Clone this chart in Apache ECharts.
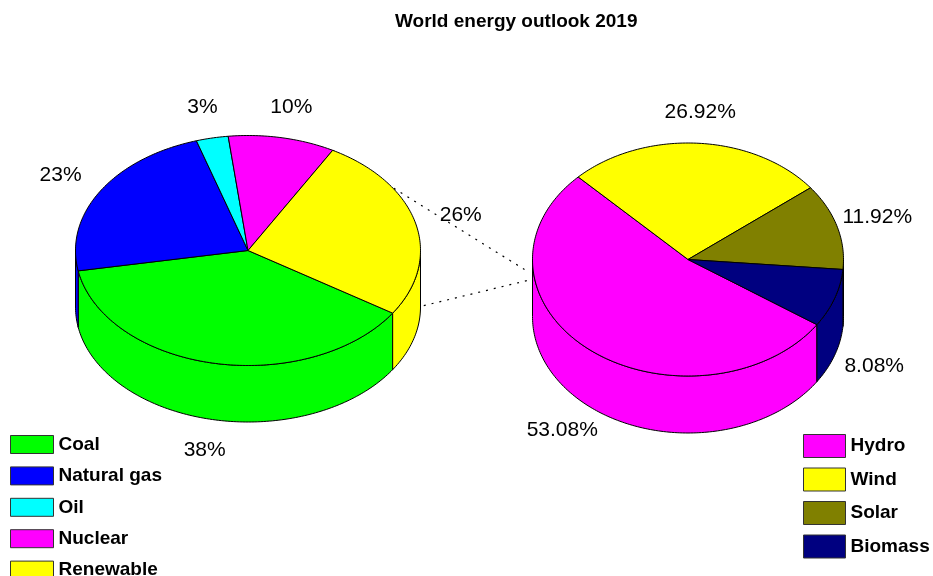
<!DOCTYPE html>
<html><head><meta charset="utf-8">
<script src="https://cdn.jsdelivr.net/npm/echarts@6/dist/echarts.min.js"></script>
<style>html,body{margin:0;padding:0;background:#fff}#c{width:933px;height:576px}</style>
</head><body><div id="c"></div>
<script>
const titleText = 'World energy outlook 2019';
const leftNames = ['Coal', 'Natural gas', 'Oil', 'Nuclear', 'Renewable'];
const leftValues = [38, 23, 3, 10, 26];
const leftColors = ['#00ff00', '#0000ff', '#00ffff', '#ff00ff', '#ffff00'];
const rightNames = ['Hydro', 'Wind', 'Solar', 'Biomass'];
const rightValues = [53.08, 26.92, 11.92, 8.08];
const rightColors = ['#ff00ff', '#ffff00', '#808000', '#000080'];
const splitIndex = 4; // "Renewable" is broken down in the right pie

const FONT = '"Liberation Sans", Arial, sans-serif';
const pies = {
  left:  { cx: 248, cy: 250.5, rx: 172.5, ry: 115, h: 56.5, start: -33,
           names: leftNames, values: leftValues, colors: leftColors, fmt: v => v + '%' },
  right: { cx: 688, cy: 259.5, rx: 155.5, ry: 116.5, h: 57, start: -34,
           names: rightNames, values: rightValues, colors: rightColors, fmt: v => v.toFixed(2) + '%' }
};

function sliceAngles(p, i) {
  const total = p.values.reduce((a, b) => a + b, 0);
  let cum = 0;
  for (let j = 0; j < i; j++) cum += p.values[j];
  const hi = p.start - cum / total * 360;
  const lo = p.start - (cum + p.values[i]) / total * 360;
  return [lo, hi];
}
function pt(p, deg, dy) {
  const r = deg * Math.PI / 180;
  return [p.cx + p.rx * Math.cos(r), p.cy - p.ry * Math.sin(r) + (dy || 0)];
}
function arc(p, from, to, dy) {
  const pts = [];
  const n = Math.max(2, Math.ceil(Math.abs(to - from)) + 1);
  for (let k = 0; k < n; k++) pts.push(pt(p, from + (to - from) * k / (n - 1), dy));
  return pts;
}
function sliceShapes(p, i) {
  const [lo, hi] = sliceAngles(p, i);
  const style = { fill: p.colors[i], stroke: '#000', lineWidth: 1 };
  const children = [];
  for (let k = -2; k <= 1; k++) {
    const a = Math.max(lo, 180 + 360 * k), b = Math.min(hi, 360 + 360 * k);
    if (b - a > 0.01) {
      const pts = arc(p, a, b, 0).concat(arc(p, b, a, p.h));
      children.push({ type: 'polygon', shape: { points: pts }, style: style });
    }
  }
  const face = [[p.cx, p.cy]].concat(arc(p, hi, lo, 0));
  children.push({ type: 'polygon', shape: { points: face }, style: style });
  return children;
}
function labelShapes(p) {
  const out = [];
  p.values.forEach((v, i) => {
    const [lo, hi] = sliceAngles(p, i);
    const mid = (lo + hi) / 2;
    const r = mid * Math.PI / 180;
    const k = 1.27;
    const x = p.cx + k * p.rx * Math.cos(r);
    const y = p.cy - k * p.ry * Math.sin(r) + (Math.sin(r) < 0 ? p.h : 0);
    out.push({ type: 'text', x: x, y: y, style: { text: p.fmt(v), fill: '#000',
      font: 'normal 21px ' + FONT, align: 'center', verticalAlign: 'middle' } });
  });
  return out;
}
function connectorShapes() {
  const L = pies.left, R = pies.right;
  const [lo, hi] = sliceAngles(L, splitIndex);
  const a = pt(L, hi, 0), b = pt(L, lo, 0);
  const ea = [R.cx - R.rx - 8, R.cy + 10], eb = [R.cx - R.rx - 5, R.cy + 21];
  const st = { stroke: '#000', lineWidth: 1.2, lineDash: [2, 6], fill: null };
  return [
    { type: 'line', shape: { x1: a[0], y1: a[1], x2: ea[0], y2: ea[1] }, style: st },
    { type: 'line', shape: { x1: b[0], y1: b[1], x2: eb[0], y2: eb[1] }, style: st }
  ];
}

const series = [];
['left', 'right'].forEach(key => {
  const p = pies[key];
  p.names.forEach((name, i) => {
    series.push({
      type: 'custom', name: name, coordinateSystem: 'none', silent: true,
      itemStyle: { color: p.colors[i], borderColor: '#000', borderWidth: 1 },
      data: [[p.values[i]]],
      renderItem: () => ({ type: 'group', children: sliceShapes(p, i) })
    });
  });
});
series.push({
  type: 'custom', name: 'connectors', coordinateSystem: 'none', silent: true, z: 1,
  data: [[0]], renderItem: () => ({ type: 'group', children: connectorShapes() })
});
series.push({
  type: 'custom', name: 'labels', coordinateSystem: 'none', silent: true, z: 5,
  data: [[0]], renderItem: () => ({ type: 'group',
    children: labelShapes(pies.left).concat(labelShapes(pies.right)) })
});

const legendText = { fontSize: 19, fontWeight: 'bold', color: '#000', fontFamily: FONT };
const chart = echarts.init(document.getElementById('c'), null, { renderer: 'canvas' });
chart.setOption({
  animation: false,
  backgroundColor: '#fff',
  title: { text: titleText, left: 395, top: 12, padding: 0,
    textStyle: { fontSize: 19, fontWeight: 'bold', color: '#000', fontFamily: FONT } },
  legend: [
    { data: leftNames, orient: 'vertical', left: 10, top: 435, height: 170, padding: 0,
      itemWidth: 43, itemHeight: 18, itemGap: 12.4, icon: 'rect', selectedMode: false,
      itemStyle: { borderColor: '#333', borderWidth: 1 },
      textStyle: Object.assign({ lineHeight: 18 }, legendText) },
    { data: rightNames, orient: 'vertical', left: 803, top: 434, height: 170, padding: 0,
      itemWidth: 42, itemHeight: 23, itemGap: 9.5, icon: 'rect', selectedMode: false,
      itemStyle: { borderColor: '#333', borderWidth: 1 },
      textStyle: Object.assign({ lineHeight: 23 }, legendText) }
  ],
  series: series
});
</script>
</body></html>
